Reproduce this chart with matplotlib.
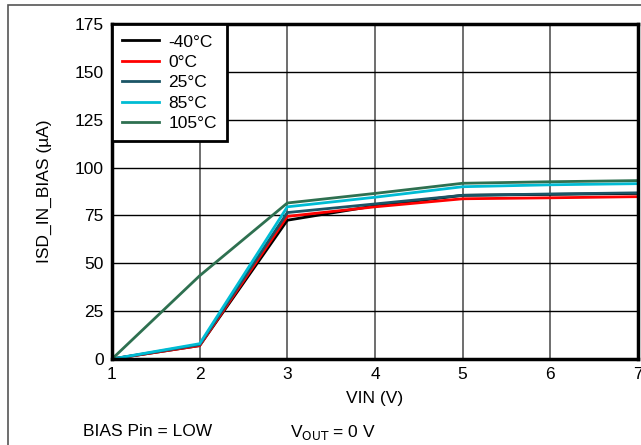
import matplotlib
matplotlib.use("Agg")
import matplotlib.pyplot as plt
from matplotlib.patches import Rectangle

plt.rcParams["font.family"] = ["Liberation Sans", "DejaVu Sans"]

vin = [1, 2, 3, 4, 5, 6, 7]
labels = ["-40°C", "0°C", "25°C", "85°C", "105°C"]
i_m40 = [0, 7, 72.5, 80, 85.5, 86, 86.5]
i_0 = [0, 7, 74.5, 79.5, 83.7, 84.2, 84.8]
i_25 = [0, 7.5, 76.5, 81, 85.5, 86.2, 86.8]
i_85 = [0, 8, 79.5, 84.5, 90, 91, 91.6]
i_105 = [0, 43.5, 81.5, 86.5, 91.8, 92.6, 93.2]
series = [i_m40, i_0, i_25, i_85, i_105]
colors = ["#000000", "#ff0000", "#1b5566", "#00bcd4", "#2e7050"]

FS = 12.5


def main():
    fig = plt.figure(figsize=(6.41, 4.45), dpi=100)
    fig.patches.append(Rectangle((8 / 641, -0.1), 1.2, 1 - 5 / 445 + 0.1,
                                 transform=fig.transFigure, fill=False,
                                 edgecolor="#555555", linewidth=1.2))
    ax = fig.add_axes([112 / 641, 1 - 359 / 445, 526 / 641, 335 / 445])

    for y, c, lab in zip(series, colors, labels):
        ax.plot(vin, y, color=c, linewidth=2.0, label=lab)

    ax.set_xlim(1, 7)
    ax.set_ylim(0, 175)
    ax.set_xticks(range(1, 8))
    ax.set_yticks(range(0, 176, 25))
    ax.tick_params(length=0, labelsize=FS, pad=6)
    ax.yaxis.grid(True, color="#000000", linewidth=1.0)
    ax.xaxis.grid(True, color="#555555", linewidth=1.2)
    for s in ax.spines.values():
        s.set_linewidth(2.5)
    ax.set_xlabel("VIN (V)", fontsize=FS, labelpad=6)
    ax.set_ylabel("ISD_IN_BIAS (µA)", fontsize=FS, labelpad=16)

    leg = ax.legend(loc="upper left", borderaxespad=0, fontsize=FS,
                    handlelength=2.1, handletextpad=0.55, labelspacing=0.3,
                    fancybox=False, framealpha=1, borderpad=0.6)
    leg.get_frame().set_edgecolor("black")
    leg.get_frame().set_linewidth(2.0)

    fig.text(83 / 641, 1 - 432 / 445, "BIAS Pin = LOW", fontsize=FS, va="center")
    fig.text(290 / 641, 1 - 432 / 445, r"V$_{\mathrm{OUT}}$ = 0 V", fontsize=FS, va="center")

    fig.savefig("out.png", dpi=100)
    plt.close(fig)


if __name__ == "__main__":
    main()
